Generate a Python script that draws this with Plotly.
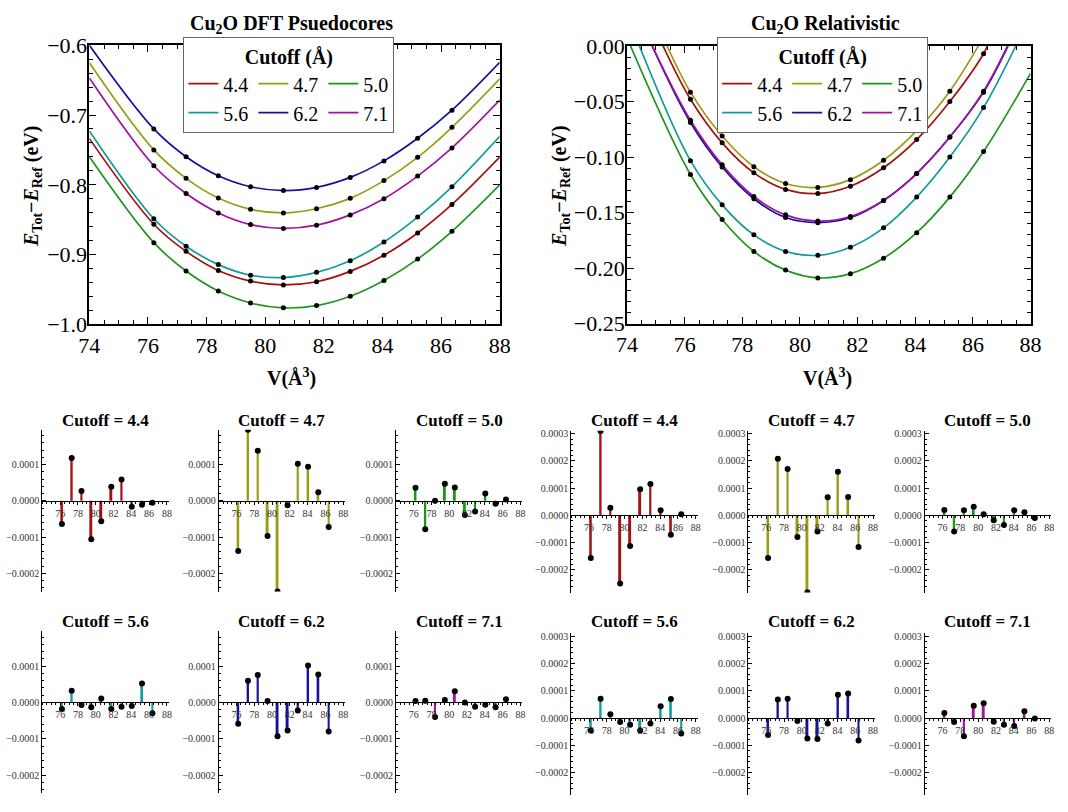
import plotly.graph_objects as go

# ---------------- data ----------------
V = [76.2, 77.3, 78.4, 79.5, 80.62, 81.75, 82.9, 84.05, 85.2, 86.37]
cutoffs = ["4.4", "4.7", "5.0", "5.6", "6.2", "7.1"]
colors = ["#a51010", "#9b9b12", "#1e961e", "#129b9b", "#12129b", "#a012a0"]

# DFT pseudocores: computed points (eV)
dft_44 = [-0.8565, -0.8954, -0.9227, -0.9380, -0.9435, -0.9389, -0.9241, -0.9009, -0.8690, -0.8282]
dft_47 = [-0.7500, -0.7907, -0.8190, -0.8352, -0.8403, -0.8343, -0.8194, -0.7940, -0.7606, -0.7176]
dft_50 = [-0.8829, -0.9236, -0.9523, -0.9694, -0.9764, -0.9731, -0.9597, -0.9370, -0.9065, -0.8667]
dft_56 = [-0.8486, -0.8880, -0.9144, -0.9296, -0.9329, -0.9255, -0.9088, -0.8820, -0.8463, -0.8028]
dft_62 = [-0.7199, -0.7597, -0.7870, -0.8028, -0.8083, -0.8037, -0.7894, -0.7657, -0.7333, -0.6931]
dft_71 = [-0.7727, -0.8125, -0.8403, -0.8570, -0.8625, -0.8579, -0.8431, -0.8199, -0.7875, -0.7472]
# fitted curve values read at V = 74 and V = 88
dft_fit_ends = {
    "4.4": (-0.7338, -0.7602), "4.7": (-0.6250, -0.6480), "5.0": (-0.7597, -0.8000),
    "5.6": (-0.7227, -0.7306), "6.2": (-0.6000, -0.6245), "7.1": (-0.6470, -0.6787),
}

# Relativistic: computed points (eV)
rel_44 = [-0.0480, -0.0872, -0.1142, -0.1291, -0.1328, -0.1262, -0.1096, -0.0843, -0.0500, -0.0070]
rel_47 = [-0.0416, -0.0811, -0.1087, -0.1238, -0.1273, -0.1203, -0.1029, -0.0762, -0.0407, 0.0080]
rel_50 = [-0.1157, -0.1561, -0.1849, -0.2017, -0.2087, -0.2049, -0.1910, -0.1680, -0.1360, -0.0950]
rel_56 = [-0.1032, -0.1430, -0.1700, -0.1849, -0.1884, -0.1811, -0.1637, -0.1360, -0.1000, -0.0555]
rel_62 = [-0.0689, -0.1090, -0.1375, -0.1544, -0.1590, -0.1544, -0.1390, -0.1148, -0.0820, -0.0416]
rel_71 = [-0.0669, -0.1070, -0.1355, -0.1520, -0.1576, -0.1535, -0.1390, -0.1148, -0.0820, -0.0407]
# fitted curve end points (V, E) read where each curve leaves the frame
rel_fit_ends = {
    "4.4": ((75.25, 0.0), (86.50, 0.0)), "4.7": ((75.39, 0.0), (86.19, 0.0)),
    "5.0": ((74.12, 0.0), (88.00, -0.0247)), "5.6": ((74.43, 0.0), (87.49, 0.0)),
    "6.2": ((74.87, 0.0), (87.22, 0.0)), "7.1": ((74.87, 0.0), (87.20, 0.0)),
}

# residuals (eV)
res_dft_44 = [-6.4e-5, 1.18e-4, 2.7e-5, -1.06e-4, -5.6e-5, 3.9e-5, 5.9e-5, -1.6e-5, -1.1e-5, -5e-6]
res_dft_47 = [-1.38e-4, 1.96e-4, 1.38e-4, -9.7e-5, -2.5e-4, -1.2e-5, 1.02e-4, 9.4e-5, 2.4e-5, -7.2e-5]
res_dft_50 = [3.6e-5, -7.8e-5, 0.0, 4.7e-5, 3.7e-5, -3.9e-5, -2.9e-5, 2.0e-5, -8e-6, 4e-6]
res_dft_56 = [-1.8e-5, 3.2e-5, -7e-6, -1.3e-5, 1.1e-5, -1.8e-5, -1.2e-5, -1.0e-5, 5.2e-5, -3.0e-5]
res_dft_62 = [-5.9e-5, 6.0e-5, 7.6e-5, 4e-6, -9.3e-5, -7.7e-5, -2.2e-5, 1.02e-4, 7.7e-5, -8.0e-5]
res_dft_71 = [4e-6, 5e-6, -4.0e-5, 7e-6, 3.1e-5, 0.0, -1.2e-5, -6e-6, -1.3e-5, 9e-6]

res_rel_44 = [-1.56e-4, 3.1e-4, 2.8e-5, -2.5e-4, -1.12e-4, 9.6e-5, 1.15e-4, 1.9e-5, -7.1e-5, 4e-6]
res_rel_47 = [-1.56e-4, 2.08e-4, 1.70e-4, -7.9e-5, -2.82e-4, -5.9e-5, 6.7e-5, 1.60e-4, 6.8e-5, -1.16e-4]
res_rel_50 = [2.0e-5, -5.9e-5, 1.9e-5, 3.2e-5, 4e-6, -1.8e-5, -3.5e-5, 1.9e-5, 1.2e-5, -9e-6]
res_rel_56 = [-4.6e-5, 7.1e-5, 1.4e-5, -1.5e-5, -2.5e-5, -4.6e-5, -2.0e-5, 4.3e-5, 7.0e-5, -5.7e-5]
res_rel_62 = [-6.2e-5, 6.8e-5, 7.1e-5, -1.1e-5, -7.5e-5, -7.7e-5, -2.0e-5, 8.5e-5, 9.0e-5, -8.3e-5]
res_rel_71 = [1.8e-5, -1.5e-5, -6.7e-5, 4.5e-5, 5.4e-5, -1.4e-5, -2.5e-5, -2.9e-5, 2.5e-5, -2e-6]

dft_pts = [dft_44, dft_47, dft_50, dft_56, dft_62, dft_71]
rel_pts = [rel_44, rel_47, rel_50, rel_56, rel_62, rel_71]
res_dft = [res_dft_44, res_dft_47, res_dft_50, res_dft_56, res_dft_62, res_dft_71]
res_rel = [res_rel_44, res_rel_47, res_rel_50, res_rel_56, res_rel_62, res_rel_71]

# ---------------- layout helpers ----------------
W, H = 1068, 812
FONT = "'Liberation Serif', 'Times New Roman', Times, 'DejaVu Serif', serif"


def px(p):
    return p / W


def py(p):
    return 1 - p / H


fig = go.Figure()
layout = dict(
    width=W, height=H, margin=dict(l=0, r=0, t=0, b=0),
    paper_bgcolor="white", plot_bgcolor="white",
    font=dict(family=FONT, color="black"),
    showlegend=True, annotations=[],
)

groups = [1, 2, 3, 1, 2, 3]

# ---------------- main plots ----------------
main_specs = [
    dict(ax="", x=(80, 499), y=(34.3, 322.3), yr=[-1.00005, -0.59995], dt=0.1, mdt=0.02, fmt=".1f",
         pts=dft_pts, legend="legend", title="<b>Cu<sub>2</sub>O DFT Psuedocores</b>", tx=286, lx=286, ylx=22),
    dict(ax="2", x=(629, 1041), y=(35, 321.7), yr=[-0.250005, 0.000005], dt=0.05, mdt=0.01, fmt=".2f",
         pts=rel_pts, legend="legend2", title="<b>Cu<sub>2</sub>O Relativistic</b>", tx=832, lx=834, ylx=561),
]

for k, s in enumerate(main_specs):
    xa, ya = "x" + s["ax"], "y" + s["ax"]
    for i, c in enumerate(cutoffs):
        if k == 0:
            e0, e1 = dft_fit_ends[c]
            cx = [74.0] + V + [88.0]
            cy = [e0] + s["pts"][i] + [e1]
        else:
            (v0, e0), (v1, e1) = rel_fit_ends[c]
            cx = [v0] + V[:-1] + ([V[-1]] if V[-1] < v1 else []) + [v1]
            cy = [e0] + s["pts"][i][:-1] + ([s["pts"][i][-1]] if V[-1] < v1 else []) + [e1]
        fig.add_trace(go.Scatter(
            x=cx, y=cy, mode="lines", name=c, legend=s["legend"],
            legendgroup=s["legend"] + str(groups[i]),
            line=dict(color=colors[i], width=1.7, shape="spline", smoothing=1.0),
            xaxis=xa, yaxis=ya, hoverinfo="skip"))
    for i, c in enumerate(cutoffs):
        fig.add_trace(go.Scatter(
            x=V, y=s["pts"][i], mode="markers", showlegend=False,
            marker=dict(color="black", size=5), xaxis=xa, yaxis=ya))
    axis_common = dict(showline=True, linecolor="black", linewidth=1.8, mirror="allticks",
                       ticks="inside", ticklen=7, tickwidth=1, tickcolor="black",
                       showgrid=False, zeroline=False,
                       tickfont=dict(family=FONT, size=22, color="black"))
    layout["xaxis" + s["ax"]] = dict(
        axis_common, domain=[px(s["x"][0]), px(s["x"][1])], range=[74, 88],
        tick0=74, dtick=2, anchor=ya,
        minor=dict(ticks="inside", ticklen=4, dtick=0.5, tick0=74, tickcolor="black"))
    layout["yaxis" + s["ax"]] = dict(
        axis_common, domain=[py(s["y"][1]), py(s["y"][0])], range=s["yr"],
        tick0=0, dtick=s["dt"], tickformat=s["fmt"], anchor=xa, ticklabelstandoff=-4,
        minor=dict(ticks="inside", ticklen=4, dtick=s["mdt"], tick0=0, tickcolor="black"))
    layout["annotations"] += [
        dict(text=s["title"], x=px(s["tx"]), y=py(13), xref="paper", yref="paper",
             showarrow=False, xanchor="center", yanchor="middle",
             font=dict(family=FONT, size=20, color="black")),
        dict(text="<b>V(Å<sup>3</sup>)</b>", x=px(s["lx"]), y=py(377), xref="paper", yref="paper",
             showarrow=False, xanchor="center", yanchor="middle",
             font=dict(family=FONT, size=20, color="black")),
        dict(text="<b><i>E</i><sub>Tot</sub>−<i>E</i><sub>Ref</sub> (eV)</b>", textangle=-90,
             x=px(s["ylx"]), y=py(180), xref="paper", yref="paper",
             showarrow=False, xanchor="center", yanchor="middle",
             font=dict(family=FONT, size=20, color="black")),
    ]

legend_common = dict(
    orientation="h", traceorder="grouped", xanchor="left", yanchor="top",
    bgcolor="white", bordercolor="#666666", borderwidth=1,
    font=dict(family=FONT, size=20, color="black"), itemwidth=30,
    title=dict(text="<b>Cutoff (Å)</b>", side="top center",
               font=dict(family=FONT, size=20, color="black")),
)
layout["legend"] = dict(legend_common, x=px(176), y=py(26))
layout["legend2"] = dict(legend_common, x=px(721), y=py(26))

# ---------------- residual small multiples ----------------
left_cols = [32, 212, 393]
right_cols = [572, 753, 933]
left_rows = [(431, 598), (639, 806)]
right_rows = [(432, 599), (641, 808)]
title_rows = [421, 629]
left_range = [-0.00025, 0.000196]
right_range = [-0.000283, 0.000311]
PANEL_W = 129  # px for V from 74 to 88.2

n = 3
for half in range(2):
    cols = left_cols if half == 0 else right_cols
    rows = left_rows if half == 0 else right_rows
    yr = left_range if half == 0 else right_range
    res = res_dft if half == 0 else res_rel
    for i, c in enumerate(cutoffs):
        r, col = divmod(i, 3)
        x0 = cols[col]
        top, bot = rows[r]
        xa, ya = "x%d" % n, "y%d" % n
        fig.add_trace(go.Bar(x=V, y=res[i], width=0.22, marker=dict(color=colors[i], line=dict(width=0)),
                             showlegend=False, xaxis=xa, yaxis=ya))
        fig.add_trace(go.Scatter(x=V, y=res[i], mode="markers", showlegend=False,
                                 marker=dict(color="black", size=6), xaxis=xa, yaxis=ya))
        yd0, yd1 = py(bot), py(top)
        zero_pos = yd0 + (0 - yr[0]) / (yr[1] - yr[0]) * (yd1 - yd0)
        small_font = dict(family=FONT, size=10, color="#333333")
        layout["xaxis%d" % n] = dict(
            domain=[px(x0), px(x0 + PANEL_W)], range=[74, 88.2], anchor="free", position=zero_pos,
            showline=True, linecolor="black", linewidth=1, ticks="outside", ticklen=3,
            tickcolor="black", tickvals=[76, 78, 80, 82, 84, 86, 88], tickfont=small_font,
            showgrid=False, zeroline=False,
            minor=dict(ticks="outside", ticklen=2, dtick=0.5, tick0=74, tickcolor="black"))
        layout["yaxis%d" % n] = dict(
            domain=[yd0, yd1], range=yr, anchor=xa,
            showline=True, linecolor="black", linewidth=1, ticks="inside", ticklen=4,
            tickcolor="black", tick0=0, dtick=0.0001, tickformat=".4f", tickfont=small_font,
            showgrid=False, zeroline=False,
            minor=dict(ticks="inside", ticklen=2, dtick=0.00002, tick0=0, tickcolor="black"))
        layout["annotations"].append(dict(
            text="<b>Cutoff = %s</b>" % c, x=px(x0 + PANEL_W / 2), y=py(title_rows[r]),
            xref="paper", yref="paper", showarrow=False, xanchor="center", yanchor="middle",
            font=dict(family=FONT, size=17, color="black")))
        n += 1

fig.update_layout(**layout)
fig.write_html("out.html")
